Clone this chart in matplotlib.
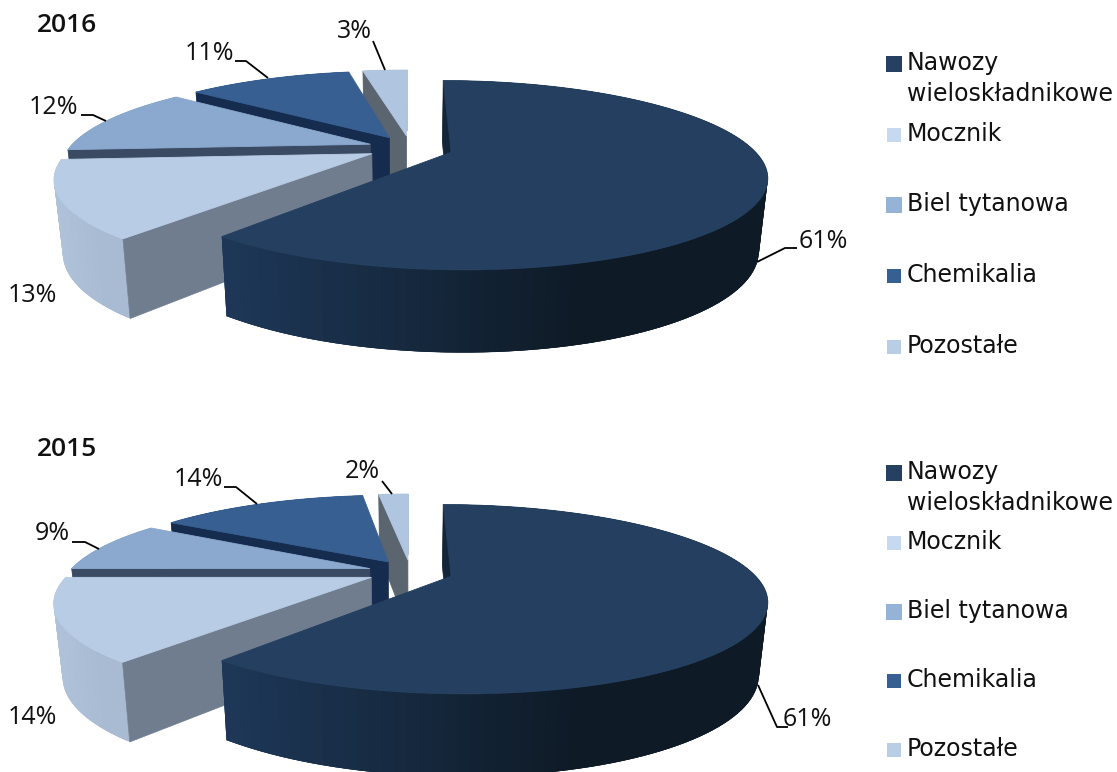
import numpy as np
import matplotlib
matplotlib.use('Agg')
import matplotlib.pyplot as plt
from matplotlib.colors import to_rgb

categories = ['Nawozy\nwieloskładnikowe', 'Mocznik', 'Biel tytanowa', 'Chemikalia', 'Pozostałe']
values_2016 = [61, 13, 12, 11, 3]
values_2015 = [61, 14, 9, 14, 2]

top_colors = ['#243f60', '#b9cce5', '#8ba8cf', '#375f92', '#b0c5e0']
legend_colors = ['#254061', '#c6d9f1', '#95b3d7', '#376092', '#b9cde5']
marker_sizes = [132, 100, 132, 100, 100]
wall_colors = ['#14253a', '#6f7d8f', '#3a4a63', '#152c4e', '#5a6570']
side_left = ['#1e3859', '#b0c2da', '#7f9cc2', '#2d5080', '#a0b4cf']
side_right = ['#0e1a26', '#a9bbd3', '#7f9cc2', '#2d5080', '#a0b4cf']

W, H = 1117, 772
CX, EXPL, R, B, K = 410.5, 0.142, 301.0, 87.0, 0.24
DEPTH = 70.0
label_font = ['Open Sans']
legend_font = ['DejaVu Sans']

fig = plt.figure(figsize=(W / 100, H / 100), dpi=100)
ax = fig.add_axes([0, 0, 1, 1])
ax.set_xlim(0, W)
ax.set_ylim(H, 0)
ax.axis('off')


def project(x, y, cy, low):
    # x, y on the pie plane (y goes away from viewer), low = 1 for bottom rim
    s = 1.0 / (1.0 + K * y)
    f = 1.0 - 0.025 * low
    px = CX + R * x * s * f
    py = cy - B * y * s + low * DEPTH * s ** 0.58
    return px, py


def draw_pie(values, cy):
    vals = np.array(values, dtype=float)
    edges = np.concatenate([[0], np.cumsum(vals)]) / vals.sum() * 2 * np.pi
    # back slices first, the big one last
    for i in [4, 3, 2, 1, 0]:
        a0, a1 = edges[i], edges[i + 1]
        mid = (a0 + a1) / 2
        ox, oy = EXPL * np.sin(mid), EXPL * np.cos(mid)
        th = np.linspace(a0, a1, 120)
        rx, ry = ox + np.sin(th), oy + np.cos(th)

        # outer rim with a gradient along the arc, quads overlap to hide seams
        tx, ty = project(rx, ry, cy, 0)
        lx, ly = project(rx, ry, cy, 1)
        c0, c1 = np.array(to_rgb(side_left[i])), np.array(to_rgb(side_right[i]))
        x_min, x_max = tx.min(), tx.max()
        for j in range(len(th) - 1):
            k = min(j + 3, len(th) - 1)
            u = (tx[j] - x_min) / max(x_max - x_min, 1)
            u = min(u * 1.5, 1.0)
            col = c0 * (1 - u) + c1 * u
            ax.fill([tx[j], tx[k], lx[k], lx[j]],
                    [ty[j], ty[k], ly[k], ly[j]],
                    color=col, lw=0)

        # wall at the start edge of the slice
        wx = np.array([ox, ox + np.sin(a0)])
        wy = np.array([oy, oy + np.cos(a0)])
        p_top = project(wx, wy, cy, 0)
        p_low = project(wx, wy, cy, 1)
        ax.fill(list(p_top[0]) + list(p_low[0][::-1]),
                list(p_top[1]) + list(p_low[1][::-1]),
                color=wall_colors[i], lw=0.5)

        # top face
        fx, fy = project(np.concatenate([[ox], rx]), np.concatenate([[oy], ry]), cy, 0)
        ax.fill(fx, fy, color=top_colors[i], lw=0.6)


def draw_labels(values, texts_xy, leaders):
    for v, (x, y), line in zip(values, texts_xy, leaders):
        ax.text(x, y, '%d%%' % v, fontsize=18, family=label_font, color='#111111',
                ha='center', va='center')
        if line:
            ax.plot(line[0], line[1], color='black', lw=1.3, solid_capstyle='butt')


def draw_legend(ys):
    for name, col, size, y in zip(categories, legend_colors, marker_sizes, ys):
        ax.scatter([894], [y], marker='s', s=size, color=col, linewidths=0)
        parts = name.split('\n')
        ax.text(907, y - 1, parts[0], fontsize=17, family=legend_font, color='#111111',
                va='center', ha='left')
        if len(parts) > 1:
            ax.text(907, y + 30, parts[1], fontsize=17, family=legend_font, color='#111111',
                    va='center', ha='left')


draw_pie(values_2016, 148)
draw_pie(values_2015, 572)

ax.text(37, 26, '2016', fontsize=19, family=['Open Sans'], weight='semibold', color='#111111', va='center')
ax.text(37, 449, '2015', fontsize=19, family=['Open Sans'], weight='semibold', color='#111111', va='center')

draw_labels(values_2016,
            [(823, 242), (32, 295), (53, 107), (209, 53), (354, 31)],
            [([757, 785, 797], [262, 248, 248]), None,
             ([81, 93, 106], [115, 115, 121]),
             ([235, 246, 268], [61, 61, 78]),
             ([373, 385], [41, 70])])
draw_labels(values_2015,
            [(807, 719), (32, 717), (52, 533), (198, 479), (362, 471)],
            [([758, 777, 788], [685, 727, 727]), None,
             ([72, 85, 99], [542, 542, 549]),
             ([224, 236, 257], [487, 487, 504]),
             ([382, 392], [481, 494])])

draw_legend([64, 135, 205, 276, 347])
draw_legend([473, 543, 612, 681, 750])

fig.savefig('out.png', dpi=100)
